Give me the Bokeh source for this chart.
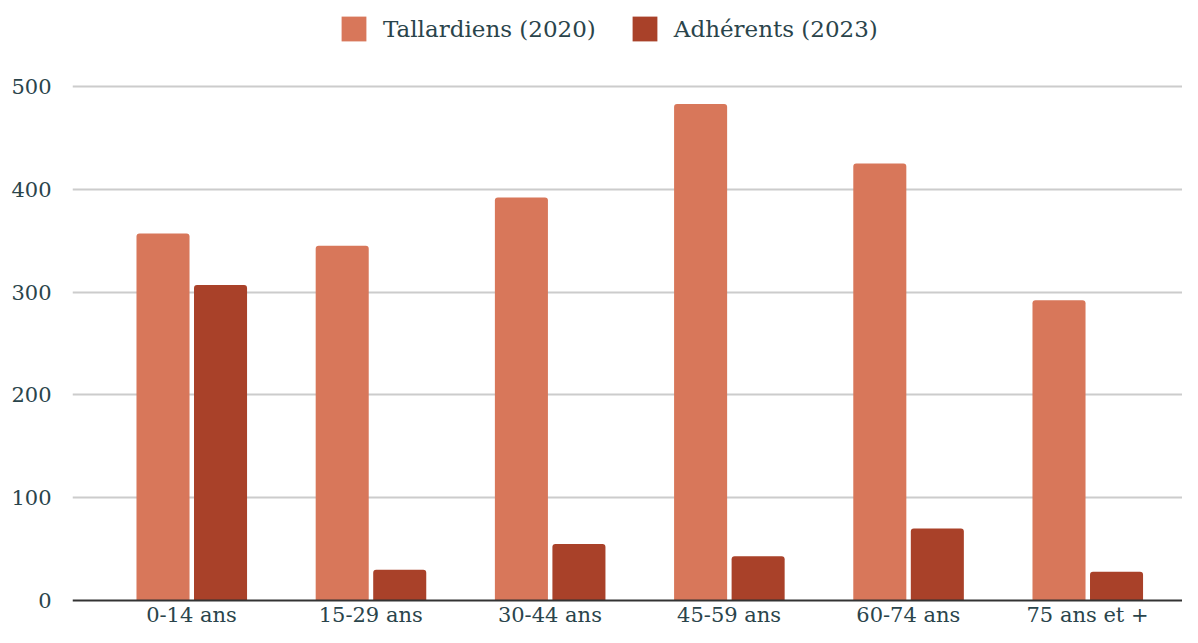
from bokeh.plotting import figure
from bokeh.models import ColumnDataSource, FixedTicker, Range1d, Legend, LegendItem, Span
from bokeh.core.properties import value
from bokeh.transform import dodge
from bokeh.embed import file_html
from bokeh.resources import INLINE

categories = ["0-14 ans", "15-29 ans", "30-44 ans", "45-59 ans", "60-74 ans", "75 ans et +"]
tallardiens_2020 = [357, 345, 392, 483, 425, 292]
adherents_2023 = [307, 30, 55, 43, 70, 28]
y_ticks = [0, 100, 200, 300, 400, 500]

series_names = ["Tallardiens (2020)", "Adhérents (2023)"]
colors = ["#D8775A", "#A94129"]
text_color = "#2A444B"
font = "DejaVu Serif"

W, H = 1182, 627
left = 72
zero_px = 600            # zero line, from top of figure
top_px = 86              # 500 gridline, from top of figure
px_per_unit = (zero_px - top_px) / 500.0
cat_px = 179.2
first_center_px = 191

xs = list(range(len(categories)))
src = ColumnDataSource(dict(x=xs, t=tallardiens_2020, a=adherents_2023, label=categories))

x_start = -(first_center_px - left) / cat_px
x_end = x_start + (W - left) / cat_px

p = figure(width=W, height=H, output_backend="svg", toolbar_location=None,
           x_range=Range1d(x_start, x_end),
           y_range=Range1d(-(H - zero_px) / px_per_unit, zero_px / px_per_unit),
           x_axis_location=None,
           min_border_left=left, min_border_right=0, min_border_top=0, min_border_bottom=0)

r1 = p.vbar(x=dodge("x", -0.159, range=p.x_range), top="t", width=0.296, source=src,
            fill_color=colors[0], line_color=None, border_radius=(3, 3, 0, 0))
r2 = p.vbar(x=dodge("x", 0.162, range=p.x_range), top="a", width=0.296, source=src,
            fill_color=colors[1], line_color=None, border_radius=(3, 3, 0, 0))

# baseline at zero
p.add_layout(Span(location=0, dimension="width", line_color="#333333", line_width=2))

# category labels under the baseline
p.text(x="x", y=-(626 - zero_px) / px_per_unit, text="label", source=src,
       text_font=value(font), text_font_size="21px", text_color=text_color,
       text_align="center", text_baseline="bottom")

legend = Legend(items=[LegendItem(label=series_names[0], renderers=[r1]),
                       LegendItem(label=series_names[1], renderers=[r2])],
                orientation="horizontal", location=(266, H - 47 + 3),
                label_text_font=font, label_text_font_size="23px",
                label_text_color=text_color, glyph_width=31, glyph_height=31,
                label_height=31, spacing=33, label_standoff=14, border_line_color=None,
                background_fill_alpha=0, margin=0, padding=8)
p.add_layout(legend, "center")

p.yaxis.ticker = FixedTicker(ticks=y_ticks)
p.yaxis.axis_line_color = None
p.yaxis.major_tick_line_color = None
p.yaxis.minor_tick_line_color = None
p.yaxis.major_label_standoff = 15
p.yaxis.major_label_text_font = font
p.yaxis.major_label_text_font_size = "21px"
p.yaxis.major_label_text_color = text_color

p.xgrid.grid_line_color = None
p.ygrid.ticker = FixedTicker(ticks=y_ticks[1:])
p.ygrid.grid_line_color = "#CCCCCC"
p.ygrid.grid_line_width = 2
p.outline_line_color = None

open("out.html", "w").write(file_html(p, INLINE))
